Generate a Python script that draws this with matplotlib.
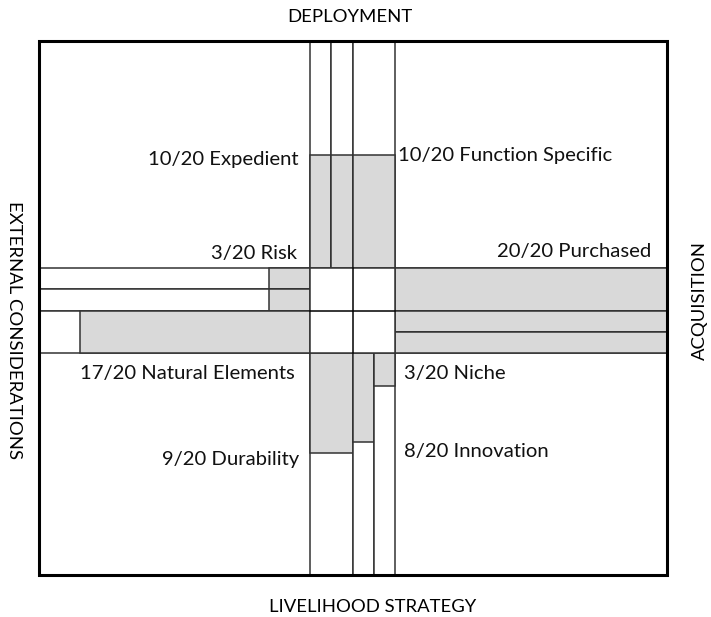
import matplotlib.pyplot as plt
from matplotlib.patches import Rectangle

# scores out of 20 for each lane of the four arms
top_names = ["Expedient", "Expedient", "Function Specific"]
top_scores = [10, 10, 10]
left_names = ["Risk", "Risk", "Natural Elements"]
left_scores = [3, 3, 17]
right_names = ["Purchased", "", ""]
right_scores = [20, 20, 20]
bottom_names = ["Durability", "Innovation", "Niche"]
bottom_scores = [9, 8, 3]
out_of = 20

axis_titles = ["DEPLOYMENT", "LIVELIHOOD STRATEGY", "EXTERNAL CONSIDERATIONS", "ACQUISITION"]

# lane layout, in quarters of the central band
top_lanes = [(0, 1), (1, 2), (2, 4)]
left_lanes = [(0, 1), (1, 2), (2, 4)]
right_lanes = [(0, 2), (2, 3), (3, 4)]
bottom_lanes = [(0, 2), (2, 3), (3, 4)]

# frame and central band (pixel units)
X0, X1, Y0, Y1 = 39, 667, 41, 575
BX0, BX1, BY0, BY1 = 310, 395, 268, 353
qx = (BX1 - BX0) / 4
qy = (BY1 - BY0) / 4

GREY = "#d9d9d9"
EDGE = "#333333"
LW = 1.1
FONT = "Lato"
FS = 14.6
FS_TITLE = 13.3

fig = plt.figure(figsize=(7.11, 6.17), dpi=100)
ax = fig.add_axes([0, 0, 1, 1])
ax.set_xlim(0, 711)
ax.set_ylim(617, 0)
ax.axis("off")


def box(x0, y0, x1, y1, fill):
    ax.add_patch(Rectangle((x0, y0), x1 - x0, y1 - y0, facecolor=fill,
                           edgecolor=EDGE, lw=LW, zorder=2))


# vertical arms
for lanes, scores, up in [(top_lanes, top_scores, True), (bottom_lanes, bottom_scores, False)]:
    for (a, b), s in zip(lanes, scores):
        xa, xb = BX0 + a * qx, BX0 + b * qx
        if up:
            box(xa, Y0, xb, BY0, "white")
            box(xa, BY0 - s / out_of * (BY0 - Y0), xb, BY0, GREY)
        else:
            box(xa, BY1, xb, Y1, "white")
            box(xa, BY1, xb, BY1 + s / out_of * (Y1 - BY1), GREY)

# horizontal arms
for lanes, scores, to_left in [(left_lanes, left_scores, True), (right_lanes, right_scores, False)]:
    for (a, b), s in zip(lanes, scores):
        ya, yb = BY0 + a * qy, BY0 + b * qy
        if to_left:
            box(X0, ya, BX0, yb, "white")
            box(BX0 - s / out_of * (BX0 - X0), ya, BX0, yb, GREY)
        else:
            box(BX1, ya, X1, yb, "white")
            box(BX1, ya, BX1 + s / out_of * (X1 - BX1), yb, GREY)

# central square
box(BX0, BY0, BX1, BY1, "white")
mx, my = (BX0 + BX1) / 2, (BY0 + BY1) / 2
ax.plot([mx, mx], [BY0, BY1], color="black", lw=LW, zorder=3)
ax.plot([BX0, BX1], [my, my], color="black", lw=LW, zorder=3)

# outer frame
ax.add_patch(Rectangle((X0, Y0), X1 - X0, Y1 - Y0, facecolor="none",
                       edgecolor="black", lw=2.2, zorder=4))


def label(name, score, x, y, ha):
    ax.text(x, y, f"{score}/{out_of} {name}", ha=ha, va="center",
            fontsize=FS, family=FONT, color="#111111")


label(top_names[0], top_scores[0], 299, 160, "right")
label(top_names[2], top_scores[2], 398, 155, "left")
label(left_names[0], left_scores[0], 297, 253, "right")
label(right_names[0], right_scores[0], 651, 252, "right")
label(left_names[2], left_scores[2], 295, 374, "right")
label(bottom_names[2], bottom_scores[2], 404, 374, "left")
label(bottom_names[0], bottom_scores[0], 299, 460, "right")
label(bottom_names[1], bottom_scores[1], 404, 451, "left")

ax.text(350, 17, axis_titles[0], ha="center", va="center", fontsize=FS_TITLE, family=FONT)
ax.text(373, 607, axis_titles[1], ha="center", va="center", fontsize=FS_TITLE, family=FONT)
ax.text(14, 330, axis_titles[2], ha="center", va="center", rotation=270, fontsize=FS_TITLE, family=FONT)
ax.text(700, 300, axis_titles[3], ha="center", va="center", rotation=90, fontsize=FS_TITLE, family=FONT)

fig.savefig("out.png", dpi=100)
